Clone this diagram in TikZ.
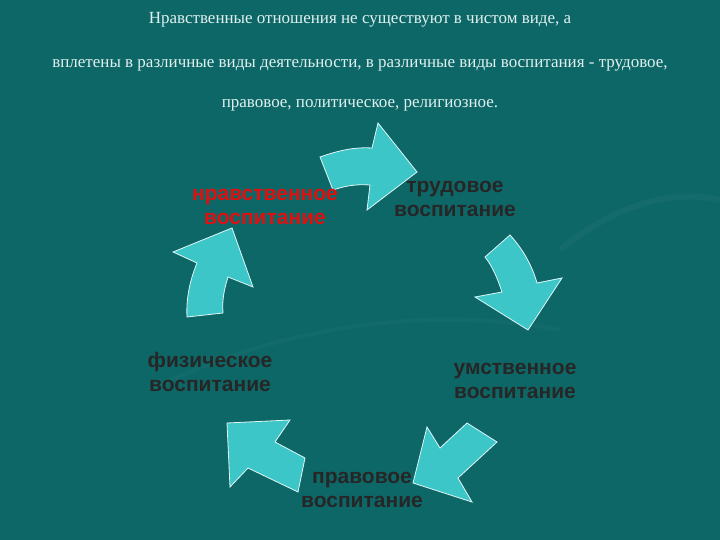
\documentclass[tikz,border=0pt]{standalone}
\usepackage{fontspec}
\setmainfont{Liberation Serif}
\setsansfont{Liberation Sans}
\begin{document}
\begin{tikzpicture}[x=1pt,y=-1pt,
  arr/.style={fill=cyanA,draw=white!85!cyanA,line width=0.8pt,line join=miter},
  lbl/.style={font=\sffamily\bfseries\fontsize{21}{24}\selectfont,align=center,text=black!85},
  ttl/.style={font=\fontsize{17}{20}\selectfont,text=white!88!teal}]
\definecolor{bgc}{HTML}{0E6767}
\definecolor{cyanA}{HTML}{3CC6C8}
\definecolor{redl}{HTML}{E01010}
\fill[bgc] (0,0) rectangle (720,540);
\useasboundingbox (0,0) rectangle (720,540);
% faint swirls
\draw[white,opacity=0.03,line width=6pt] (560,250) .. controls (620,200) and (680,190) .. (720,200);
\draw[white,opacity=0.025,line width=4pt] (150,390) .. controls (250,340) and (400,300) .. (560,330);
\node[ttl] (t1) at (360,20) {Нравственные отношения не существуют в чистом виде, а};
\node[ttl] (t2) at (360,65) {вплетены в различные виды деятельности, в различные виды воспитания - трудовое,};
\node[ttl] (t3) at (360,105) {правовое, политическое, религиозное.};
% arrows
\draw[arr] (320,157) .. controls (340,150) and (355,147) .. (372,148) -- (378,123) -- (417,172) -- (367,210) -- (370,185) .. controls (355,184) and (345,186) .. (333,190) -- cycle;
\draw[arr] (485,257) -- (510,235) .. controls (522,248) and (532,265) .. (537,283) -- (562,278) -- (528,330) -- (475,297) -- (502,292) .. controls (498,280) and (493,267) .. (485,257) -- cycle;
\draw[arr] (467,423) -- (497,442) -- (458,478) -- (472,502) -- (413,483) -- (427,427) -- (440,448) -- cycle;
\draw[arr] (305,458) -- (298,492) -- (248,468) -- (230,487) -- (227,423) -- (290,420) -- (275,442) -- cycle;
\draw[arr] (187,317) .. controls (186,298) and (190,280) .. (197,263) -- (173,252) -- (232,228) -- (253,287) -- (228,277) .. controls (224,290) and (222,300) .. (223,313) -- cycle;
% labels
\node[lbl,text=redl] (n1) at (265,207) {нравственное\\воспитание};
\node[lbl] (n2) at (455,199) {трудовое\\воспитание};
\node[lbl] (n3) at (515,381) {умственное\\воспитание};
\node[lbl] (n4) at (362,490) {правовое\\воспитание};
\node[lbl] (n5) at (210,372) {физическое\\воспитание};
\end{tikzpicture}
\end{document}
